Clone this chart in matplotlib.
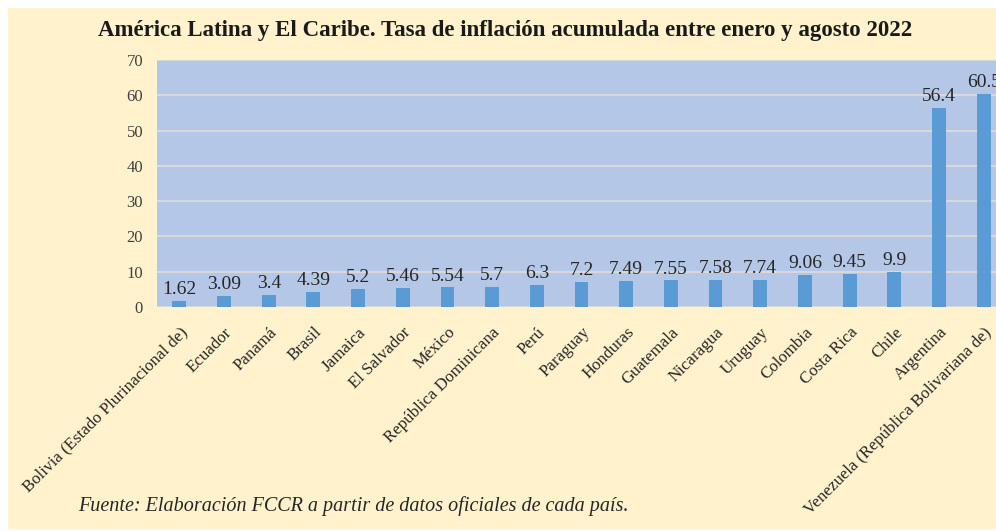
import matplotlib.pyplot as plt
from matplotlib.patches import Rectangle

plt.rcParams['font.family'] = ['Liberation Serif', 'DejaVu Serif']

paises = ['Bolivia (Estado Plurinacional de)', 'Ecuador', 'Panamá', 'Brasil', 'Jamaica',
          'El Salvador', 'México', 'República Dominicana', 'Perú', 'Paraguay', 'Honduras',
          'Guatemala', 'Nicaragua', 'Uruguay', 'Colombia', 'Costa Rica', 'Chile',
          'Argentina', 'Venezuela (República Bolivariana de)']
inflacion = [1.62, 3.09, 3.4, 4.39, 5.2, 5.46, 5.54, 5.7, 6.3, 7.2, 7.49, 7.55, 7.58,
             7.74, 9.06, 9.45, 9.9, 56.4, 60.5]
etiquetas = ['1.62', '3.09', '3.4', '4.39', '5.2', '5.46', '5.54', '5.7', '6.3', '7.2',
             '7.49', '7.55', '7.58', '7.74', '9.06', '9.45', '9.9', '56.4', '60.5']

W, H = 996, 531
fig = plt.figure(figsize=(W / 100, H / 100), dpi=100, facecolor='white')
# fondo crema
fig.patches.append(Rectangle((8 / W, 2 / H), 1, (H - 10) / H, transform=fig.transFigure,
                             facecolor='#FFF2CC', edgecolor='none', zorder=-5))

ax = fig.add_axes([157 / W, (H - 307) / H, (1006 - 157) / W, 247 / H])
ax.set_facecolor('#B4C7E7')
for s in ax.spines.values():
    s.set_visible(False)

x = range(len(paises))
ax.bar(x, inflacion, width=0.31, color='#5B9BD5', zorder=3)
for xi, v, t in zip(x, inflacion, etiquetas):
    ax.text(xi, v + 0.8, t, ha='center', va='bottom', fontsize=14, color='#262626',
            zorder=4, clip_on=False)

ax.set_xlim(-0.5, len(paises) - 0.5)
ax.set_ylim(0, 70)
ax.set_yticks(range(0, 71, 10))
ax.yaxis.grid(True, color='#D9D9D9', linewidth=1.5, zorder=1)
ax.set_axisbelow(True)
ax.tick_params(axis='y', length=0, pad=10, labelsize=12, labelcolor='#404040')
ax.tick_params(axis='x', length=0, pad=12.5)
ax.set_xticks(list(x))
ax.set_xticklabels(paises, rotation=45, ha='right', rotation_mode='anchor',
                   fontsize=12.2, color='#262626')

fig.text(505 / W, 1 - 31 / H, 'América Latina y El Caribe. Tasa de inflación acumulada entre enero y agosto 2022',
         ha='center', va='center', fontsize=16.5, fontweight='bold', color='#1a1a1a')
fig.text(78 / W, 1 - 511 / H, 'Fuente: Elaboración FCCR a partir de datos oficiales de cada país.',
         ha='left', va='baseline', fontsize=14.5, style='italic', color='#262626')

fig.savefig('out.png', dpi=100)
